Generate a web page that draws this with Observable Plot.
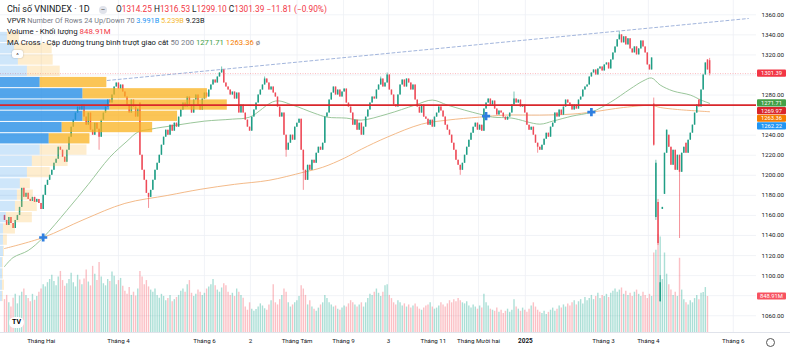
<!DOCTYPE html>
<html><head><meta charset="utf-8">
<script src="https://cdn.jsdelivr.net/npm/d3@7"></script>
<script src="https://cdn.jsdelivr.net/npm/@observablehq/plot@0.6"></script>
<style>
html,body{margin:0;padding:0;background:#fff;}
#wrap{position:relative;width:790px;height:351px;overflow:hidden;font-family:Roboto,"Noto Sans",sans-serif;}
#wrap svg{position:absolute;left:0;top:0;}
.lg{position:absolute;white-space:nowrap;color:#131722;font-size:7.7px;line-height:10px;}
.g{color:#787b86}.r{color:#f23645}
</style></head><body><div id="wrap"></div>
<script>
// ---------- DATA ----------
const closes = [
 1155,1150,1158,1152,1147,1155,1160,1168,1187,1178,
 1182,1176,1174,1178,1173,1176,1172,1166,1180,1190,
 1195,1200,1205,1212,1216,1228,1225,1218,1213,1225,
 1238,1248,1255,1262,1268,1265,1270,1258,1250,1262,
 1245,1240,1252,1246,1238,1255,1262,1268,1275,1272,
 1280,1288,1292,1286,1290,1283,1278,1270,1262,1275,
 1268,1258,1266,1220,1205,1195,1182,1178,1185,1195,
 1205,1212,1220,1230,1238,1245,1240,1250,1244,1252,
 1248,1258,1265,1272,1268,1278,1270,1262,1275,1280,
 1270,1265,1276,1282,1278,1285,1290,1295,1292,1298,
 1302,1305,1292,1288,1285,1280,1283,1276,1282,1262,
 1270,1262,1255,1248,1244,1258,1265,1272,1280,1285,
 1290,1296,1292,1285,1288,1282,1278,1268,1258,1262,
 1240,1225,1232,1240,1235,1248,1252,1256,1225,1205,
 1195,1210,1205,1215,1212,1222,1228,1225,1232,1258,
 1262,1275,1282,1288,1280,1285,1278,1283,1286,1272,
 1268,1262,1250,1255,1245,1252,1240,1248,1258,1265,
 1272,1278,1276,1285,1290,1296,1288,1292,1300,1285,
 1280,1270,1268,1280,1290,1295,1288,1296,1292,1285,
 1290,1275,1268,1262,1270,1258,1256,1250,1255,1248,
 1258,1262,1268,1264,1258,1250,1245,1240,1232,1225,
 1215,1210,1205,1212,1220,1228,1235,1242,1248,1252,
 1245,1250,1244,1266,1272,1276,1270,1274,1266,1260,
 1264,1262,1258,1255,1258,1262,1270,1276,1272,1275,
 1268,1270,1262,1250,1245,1248,1240,1232,1228,1225,
 1230,1236,1242,1238,1248,1252,1262,1258,1265,1260,
 1268,1275,1272,1270,1265,1270,1266,1275,1278,1285,
 1288,1290,1298,1302,1305,1300,1306,1308,1304,1310,
 1312,1306,1315,1322,1328,1335,1340,1332,1338,1330,
 1336,1326,1322,1328,1320,1326,1334,1328,1322,1310,
 1305,1317,1230,1212,1132,1093,1168,1222,1245,1228,
 1210,1225,1205,1220,1203,1222,1228,1222,1235,1242,
 1250,1262,1270,1268,1285,1300,1312,1305,1301.39
];
// opens that differ from the previous close (gaps)
const gapIdx  = [0,    63,   302,  303,  304,  305,  306,  307,  309,  317,  323,  327,  328];
const gapOpen = [1160, 1272, 1271, 1158, 1173, 1074, 1166, 1181, 1240, 1232, 1275, 1315, 1314.25];
// visible wicks
const hiIdx = [101, 121, 175, 178, 237, 286, 302, 303, 304, 305, 328];
const hiVal = [1308,1298,1298,1302,1283,1343,1277,1215,1176,1100,1316.53];
const loIdx = [44, 67, 131, 139, 212, 248, 302, 303, 304, 305, 314, 328];
const loVal = [1225,1167,1218,1185,1200,1222,1229,1155,1130,1073.6,1137,1299.10];
// volume (millions)
const volumes = [
 775,875,700,600,810,900,675,860,950,1025,875,800,725,900,760,850,950,1025,
 1125,1075,1175,1250,1350,1200,1100,1310,1440,1225,1090,1150,1250,1400,1175,1075,1350,1240,1125,1260,1475,1190,1100,
 1560,1375,1225,1650,1310,1150,1100,1250,1200,1425,1325,1125,1225,1275,1090,
 975,900,1060,875,950,860,1025,
 1440,1310,1125,1225,1075,1000,
 950,1025,875,810,900,850,750,800,875,725,775,825,
 875,975,1025,950,1125,1225,925,850,900,1000,950,875,925,1025,
 1075,1125,1250,1100,1000,950,1050,1150,1100,950,875,925,850,1025,950,875,810,
 600,525,700,550,500,540,600,675,625,560,525,650,750,1125,
 700,650,775,875,1025,950,700,600,650,700,750,850,1100,1025,875,
 650,750,600,550,500,575,650,700,875,800,700,650,600,625,550,525,575,625,600,675,750,700,650,600,650,700,
 600,700,800,900,875,950,1025,925,850,950,1100,1125,875,800,
 700,650,750,700,625,675,600,650,575,625,675,600,550,525,575,625,650,700,600,550,
 575,625,700,650,600,675,750,700,775,725,800,750,700,675,725,625,575,650,600,550,625,
 575,900,700,625,550,525,500,575,475,525,450,500,550,475,525,775,600,550,500,
 575,525,475,550,625,700,600,525,475,450,500,425,475,525,575,500,550,625,575,650,
 600,675,625,700,750,650,725,775,675,825,750,800,875,775,850,925,
 800,875,850,900,825,925,975,1025,950,1000,1050,900,975,875,925,850,950,1000,900,850,950,875,800,900,850,
 1875,1940,2310,2250,1250,1875,1375,1125,1000,875,950,850,1750,1000,775,700,650,750,700,800,875,775,925,945,1060,848.91
];
// moving averages (bar index, value)
const ma50Idx = [0,4,11,18,29,39,49,57,62,68,80,93,106,114,126,134,144,150,159,166,178,191,199,206,214,221,227,236,249,255,264,273,282,291,297,301,305,311,319,324,328];
const ma50Val = [1109,1118,1125,1138,1165,1191,1218,1234,1243,1246,1250,1254,1256,1258,1274,1270,1262,1258,1257,1255,1261,1270,1275,1270,1265,1261,1258,1257,1251,1254,1259,1263,1273,1286,1294,1297,1290,1284,1280,1275,1271.71];
const ma200Idx = [0,18,37,56,76,91,107,123,139,148,158,166,178,194,206,221,233,249,264,273,288,301,305,313,328];
const ma200Val = [1127,1138,1156,1172,1180,1186,1191,1195,1203,1208,1217,1226,1238,1251,1255,1258,1260,1260,1261,1263,1267.6,1269.6,1267.6,1265.6,1263.36];
const crossIdx = [18, 224, 273];
const crossVal = [1138, 1259, 1263];
// trend line drawn on chart
const trendIdx = [47.8, 346];
const trendVal = [1294.5, 1356.3];
// VPVR: 24 rows, top to bottom (billions)
const vpRange = [1073.6, 1343];
const vpUp   = [0.042,0.085,0.109,0.164,0.242,0.503,0.667,0.503,0.376,0.297,0.242,0.194,0.164,0.121,0.103,0.091,0.036,0.018,0.018,0.018,0.012,0.012,0.012,0.012];
const vpDown = [0.073,0.230,0.212,0.200,0.406,0.758,0.715,0.576,0.551,0.248,0.285,0.218,0.139,0.061,0.097,0.133,0.158,0.073,0.024,0.006,0.006,0.006,0.012,0.006];
const vaRows = [4,5,6,7,8,9];
const vpShare = 0.30;
const poc = 1269.97;
const lastClose = 1301.39;
// axes
const priceTicks = [1060,1080,1100,1120,1140,1160,1180,1200,1220,1240,1260,1280,1300,1320,1340,1360];
const monthIdx = [17.1, 53, 93, 114.4, 136.1, 157.7, 178.6, 199.5, 220.5, 242.3, 278.6, 299.5, 339];
const monthLabels = ["Tháng Hai","Tháng 4","Tháng 6","2","Tháng Tám","Tháng 9","3","Tháng 11","Tháng Mười hai","2025","Tháng 3","Tháng 4","Tháng 6"];
// right-side tags
const tagVals   = [1301.39, 1271.71, 1269.97, 1263.36, 1262.22];
const tagColors = ["#f23645","#43a047","#d9262b","#f57c00","#2196f3"];
const volTag = 848.91;

// ---------- BUILD ----------
const UP = "#1f9e85", DOWN = "#ee4b58";
const VUP = "rgba(34,171,148,0.38)", VDOWN = "rgba(242,70,85,0.34)";
const bars = closes.map((c, i) => {
  const gi = gapIdx.indexOf(i);
  const o = gi >= 0 ? gapOpen[gi] : closes[i - 1];
  let h = Math.max(o, c), l = Math.min(o, c);
  const hi = hiIdx.indexOf(i); if (hi >= 0) h = hiVal[hi];
  const li = loIdx.indexOf(i); if (li >= 0) l = loVal[li];
  return {i, o, c, h, l, v: volumes[i], up: c >= o};
});
const ma50 = ma50Idx.map((i, k) => ({i, v: ma50Val[k]}));
const ma200 = ma200Idx.map((i, k) => ({i, v: ma200Val[k]}));
const crosses = crossIdx.map((i, k) => ({i, p: crossVal[k]}));
const trend = trendIdx.map((i, k) => ({i, p: trendVal[k]}));
const rowH = (vpRange[1] - vpRange[0]) / vpUp.length;
const vpRows = vpUp.map((u, k) => ({hi: vpRange[1] - k * rowH, lo: vpRange[1] - (k + 1) * rowH, up: u, down: vpDown[k], va: vaRows.includes(k)}));
const vpMax = d3.max(vpRows, d => d.up + d.down);
const monthTicks = monthIdx.map((i, k) => ({i, label: monthLabels[k]}));

const wrap = document.getElementById("wrap");
const frame = {width: 790, height: 351, marginLeft: 0, marginRight: 34, marginTop: 0, marginBottom: 19};
const xDom = [-1.86, 349.8];
const yDom = [1043.3, 1374.25];
const volDom = [0, 7830];
const yS = Plot.scale({y: {domain: yDom, range: [351 - frame.marginBottom, frame.marginTop]}});
const vS = Plot.scale({y: {domain: volDom, range: [351 - frame.marginBottom, frame.marginTop]}});

// right-side tag positions (stacked so they don't overlap)
const order = tagVals.map((v, k) => ({v, c: tagColors[k]})).sort((a, b) => b.v - a.v);
let prevY = -Infinity;
order.forEach(t => { let y = yS.apply(t.v); if (y < prevY + 7.7) y = prevY + 7.7; prevY = y; t.y = y; });
const volTagY = vS.apply(volTag);
const tagYs = order.map(t => t.y).concat([volTagY]);
const shownTicks = priceTicks.filter(p => tagYs.every(y => Math.abs(yS.apply(p) - y) > 7));

function layer(opts) {
  const svg = Plot.plot({...frame, style: "background:transparent;overflow:visible;font-family:Roboto,'Noto Sans',sans-serif;", ...opts});
  wrap.appendChild(svg);
  return svg;
}
// grid + axes
layer({x: {domain: xDom, axis: null}, y: {domain: yDom, axis: null}, marks: [
  Plot.ruleY(priceTicks, {stroke: "#eef0f5", strokeWidth: 0.8}),
  Plot.ruleX(monthIdx, {stroke: "#eef0f5", strokeWidth: 0.8}),
  Plot.text(shownTicks, {y: d => d, text: d => d.toFixed(2), frameAnchor: "right", textAnchor: "start", dx: 5, fontSize: 6.2, fill: "#131722"}),
  Plot.text(monthTicks.filter(d => d.label !== "2025"), {x: "i", text: "label", frameAnchor: "bottom", dy: 10, fontSize: 6.2, fill: "#131722"}),
  Plot.text(monthTicks.filter(d => d.label === "2025"), {x: "i", text: "label", frameAnchor: "bottom", dy: 10, fontSize: 6.4, fontWeight: "bold", fill: "#131722"})
]});
// volume
layer({x: {domain: xDom, axis: null}, y: {domain: volDom, axis: null}, color: {type: "identity"}, marks: [
  Plot.ruleX(bars, {x: "i", y1: 0, y2: "v", stroke: d => d.up ? VUP : VDOWN, strokeWidth: 1.4})
]});
// price
layer({x: {domain: xDom, axis: null}, y: {domain: yDom, axis: null}, color: {type: "identity"}, marks: [
  Plot.ruleY([lastClose], {stroke: "#f7525f", strokeOpacity: 0.55, strokeDasharray: "1,1.5", strokeWidth: 0.7}),
  Plot.line(trend, {x: "i", y: "p", stroke: "#8aa2d3", strokeWidth: 0.8, strokeDasharray: "3,2.5"}),
  Plot.line(ma200, {x: "i", y: "v", stroke: "#f2b27c", strokeWidth: 0.9, curve: "catmull-rom"}),
  Plot.line(ma50, {x: "i", y: "v", stroke: "#8fbf8f", strokeWidth: 0.9, curve: "catmull-rom"}),
  Plot.ruleX(bars, {x: "i", y1: "l", y2: "h", stroke: d => d.up ? UP : DOWN, strokeWidth: 0.6}),
  Plot.ruleX(bars, {x: "i", y1: "o", y2: "c", stroke: d => d.up ? UP : DOWN, strokeWidth: 1.5}),
  Plot.dot(crosses, {x: "i", y: "p", symbol: "cross", r: 3.4, fill: "#2f7fe0"})
]});
// VPVR
layer({x: {domain: [0, vpMax / vpShare], axis: null}, y: {domain: yDom, axis: null}, color: {type: "identity"}, marks: [
  Plot.rect(vpRows, {x1: 0, x2: "up", y1: "lo", y2: "hi", fill: d => d.va ? "rgba(33,140,230,0.78)" : "rgba(33,140,230,0.22)", insetTop: 0.5, insetBottom: 0.5}),
  Plot.rect(vpRows, {x1: "up", x2: d => d.up + d.down, y1: "lo", y2: "hi", fill: d => d.va ? "rgba(250,178,30,0.75)" : "rgba(250,190,80,0.28)", insetTop: 0.5, insetBottom: 0.5})
]});
// POC + tags
const topSvg = layer({x: {domain: xDom, axis: null}, y: {domain: yDom, axis: null}, marks: [
  Plot.ruleY([poc], {stroke: "#d9262b", strokeWidth: 1.6})
]});
const tg = d3.select(topSvg).append("g").attr("font-size", 5.8).attr("font-family", "Roboto,sans-serif");
order.forEach(t => {
  tg.append("rect").attr("x", 757).attr("y", t.y - 3.6).attr("width", 29).attr("height", 7.2).attr("rx", 1).attr("fill", t.c);
  tg.append("text").attr("x", 771.5).attr("y", t.y).attr("dy", "0.35em").attr("text-anchor", "middle").attr("fill", "#fff").text(t.v.toFixed(2));
});
tg.append("rect").attr("x", 757).attr("y", volTagY - 3.6).attr("width", 29).attr("height", 7.2).attr("rx", 1).attr("fill", "#f7525f");
tg.append("text").attr("x", 771.5).attr("y", volTagY).attr("dy", "0.35em").attr("text-anchor", "middle").attr("fill", "#fff").text(volTag.toFixed(2) + "M");

// ---------- HTML overlays (legend etc.) ----------
function div(html, css) { const d = document.createElement("div"); d.className = "lg"; d.innerHTML = html; d.style.cssText += css; wrap.appendChild(d); return d; }
div('Chỉ số VNINDEX · 1D', "left:7px;top:4px;font-size:9px;");
div('<span style="display:inline-block;width:8px;height:8px;border-radius:50%;background:#e0e3eb;text-align:center;line-height:8px;font-size:7px;color:#555">–</span>', "left:99px;top:4.5px;");
div('O<span class=r>1314.25</span> H<span class=r>1316.53</span> L<span class=r>1299.10</span> C<span class=r>1301.39</span> <span class=r>−11.81 (−0.90%)</span>', "left:116px;top:4.3px;font-size:8.3px;");
div('VPVR <span class=g>Number Of Rows 24 Up/Down 70</span> <span style="color:#2196f3">3.991B</span> <span style="color:#f5b82e">5.239B</span> <span>9.23B</span>', "left:7px;top:15.7px;font-size:7.3px;");
div('Volume - Khối lượng <span class=r>848.91M</span>', "left:7px;top:27.3px;font-size:7.9px;");
div('MA Cross - Cập đường trung bình trượt giao cắt <span class=g>50 200</span> <span style="color:#43a047">1271.71</span> <span style="color:#f57c00">1263.36</span> <span class=g>ø</span>', "left:7px;top:38.3px;");
div('^', "left:12px;top:50px;width:11px;height:8px;background:#fff;border-radius:2px;box-shadow:0 0 1.5px rgba(0,0,0,0.35);text-align:center;font-size:6px;line-height:9px;");
div('<b>TV</b>', "left:9px;top:317px;width:15px;height:11px;background:#fff;border-radius:6px;text-align:center;font-size:7px;line-height:11px;color:#000;");
div('', "left:766px;top:338px;width:7px;height:7px;border:0.8px solid #555;border-radius:50%;");
div('', "left:0;top:332px;width:790px;height:0;border-top:0.8px solid #e0e3eb;");
</script></body></html>
